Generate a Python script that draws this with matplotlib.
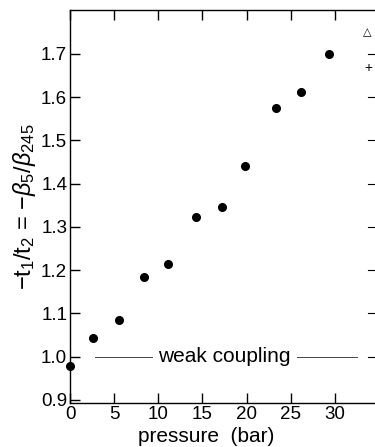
import matplotlib
matplotlib.use("Agg")
from matplotlib import pyplot as plt

# pressure (bar) and ratio -t1/t2
pressao = [0.0, 2.6, 5.5, 8.4, 11.1, 14.3, 17.2, 19.8, 23.3, 26.1, 29.3]
razao = [0.978, 1.043, 1.085, 1.184, 1.214, 1.322, 1.345, 1.442, 1.575, 1.612, 1.700]

xticks = [0, 5, 10, 15, 20, 25, 30]
yticks = [0.9, 1.0, 1.1, 1.2, 1.3, 1.4, 1.5, 1.6, 1.7]
ylabels = ["0.9", "1.0", "1.1", "1.2", "1.3", "1.4", "1.5", "1.6", "1.7"]

plt.rcParams['font.family'] = ['Liberation Sans', 'DejaVu Sans']
plt.rcParams['mathtext.fontset'] = 'custom'
plt.rcParams['mathtext.rm'] = 'Liberation Sans'
plt.rcParams['mathtext.it'] = 'Liberation Sans:italic'

fig = plt.figure(figsize=(3.75, 4.47), dpi=100)
ax = fig.add_axes([70/375, 44/447, 305/375, 393/447])

ax.plot(pressao, razao, 'o', color='black', markersize=5.5, clip_on=False, zorder=5)

# weak coupling reference line
ax.plot([2.8, 9.3], [1.0, 1.0], color='#444444', lw=0.7)
ax.plot([25.7, 32.5], [1.0, 1.0], color='#444444', lw=0.7)
ax.text(17.5, 1.0, "weak coupling", ha='center', va='center', fontsize=15)

ax.set_xlim(0, 34.53)
ax.set_ylim(0.893, 1.8015)
ax.set_xticks(xticks)
ax.set_yticks(yticks)
ax.set_yticklabels(ylabels)
ax.tick_params(axis='both', direction='in', length=7, width=1, labelsize=13.5)
ax.tick_params(axis='x', top=True, pad=2)
ax.tick_params(axis='y', pad=2)
ax.spines['right'].set_visible(False)
for s in ['left', 'bottom', 'top']:
    ax.spines[s].set_linewidth(1)

ax.set_xlabel("pressure  (bar)", fontsize=15, labelpad=0)
ax.xaxis.set_label_coords(0.446, -0.062)
ax.set_ylabel(r"$-$t$_1$/t$_2$ = $-\beta_5/\beta_{245}$", fontsize=17, labelpad=2)

# pieces of the neighbouring panel at the right edge
fig.text(363/375, 1 - 32/447, "\u25b3", fontsize=8, ha='left', va='center')
fig.text(364/375, 1 - 68/447, "+", fontsize=10, ha='left', va='center')
for v in yticks[1:]:
    ax.plot([33.7, 34.5], [v, v], color='black', lw=0.8, clip_on=False)

fig.savefig("out.png", dpi=100)
